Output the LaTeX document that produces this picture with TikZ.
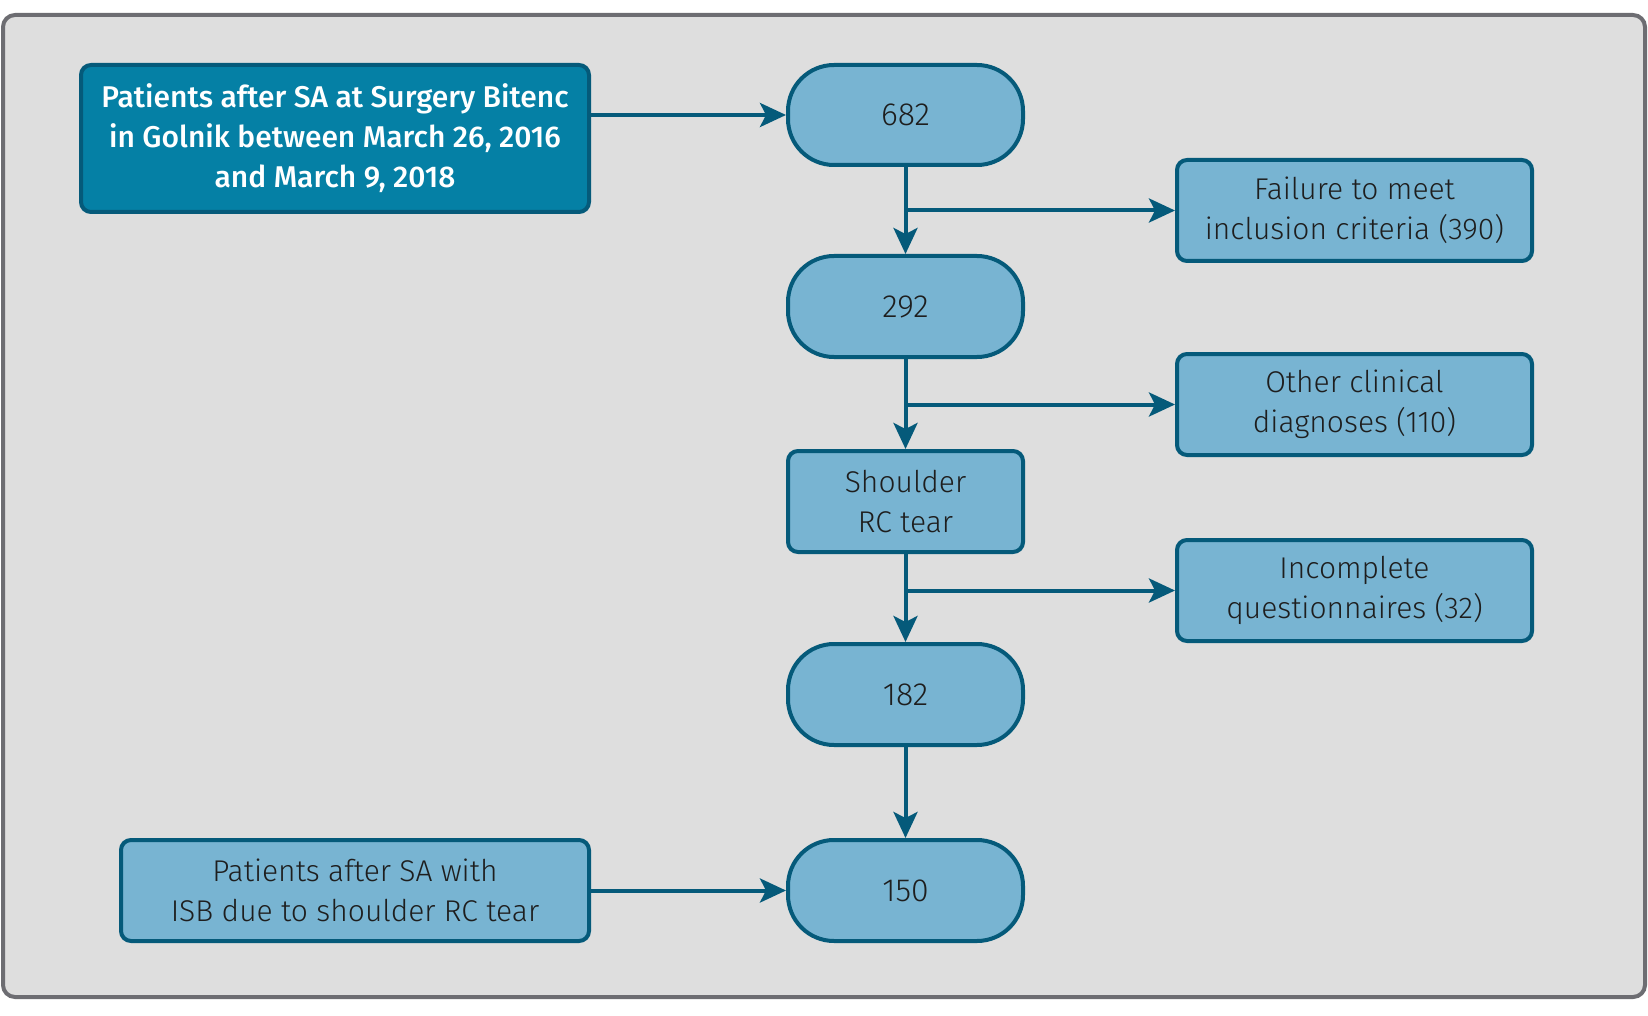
\documentclass[tikz,border=0pt]{standalone}
\usepackage{fontspec}
\setmainfont{Fira Sans}[UprightFont=* Light, BoldFont=* Medium]
\usetikzlibrary{arrows.meta}
\definecolor{bgc}{HTML}{DEDEDE}
\definecolor{framec}{HTML}{6D6D72}
\definecolor{lightc}{HTML}{78B4D2}
\definecolor{darkc}{HTML}{0580A5}
\definecolor{strokec}{HTML}{055A7A}
\definecolor{txtc}{HTML}{1E1E1E}
\tikzset{
  base/.style={draw=strokec, line width=4pt, align=center, inner sep=0pt,
    font=\fontsize{30}{40}\selectfont},
  lightbox/.style={base, fill=lightc, text=txtc, rounded corners=10pt},
  darkbox/.style={base, fill=darkc, text=white, rounded corners=10pt, font=\bfseries\fontsize{30}{40}\selectfont},
  pill/.style={base, fill=lightc, text=txtc, rounded corners=46pt, font=\fontsize{32}{40}\selectfont},
  arr/.style={draw=strokec, line width=4pt, -{Stealth[length=26pt,width=24pt,inset=6pt]}},
  ln/.style={draw=strokec, line width=4pt}
}
\begin{document}
\begin{tikzpicture}[x=1pt,y=-1pt]
\useasboundingbox (0,0) rectangle (1648,1016);
\draw[draw=framec, fill=bgc, line width=4pt, rounded corners=12pt] (3,15) rectangle (1645,997);

\node[darkbox, minimum width=508pt, minimum height=147pt] (b1) at (335,138.5)
  {Patients after SA at Surgery Bitenc\\in Golnik between March 26, 2016\\and March 9, 2018};
\node[pill, minimum width=235pt, minimum height=100pt] (n682) at (905.5,115) {682};
\node[lightbox, minimum width=355pt, minimum height=101pt] (fail) at (1354.5,210.5)
  {Failure to meet\\inclusion criteria (390)};
\node[pill, minimum width=235pt, minimum height=101pt] (n292) at (905.5,306.5) {292};
\node[lightbox, minimum width=355pt, minimum height=101pt] (other) at (1354.5,404.5)
  {Other clinical\\diagnoses (110)};
\node[lightbox, minimum width=235pt, minimum height=101pt] (shoulder) at (905.5,501.5)
  {Shoulder\\RC tear};
\node[lightbox, minimum width=355pt, minimum height=101pt] (incomplete) at (1354.5,590.5)
  {Incomplete\\questionnaires (32)};
\node[pill, minimum width=235pt, minimum height=101pt] (n182) at (905.5,694.5) {182};
\node[pill, minimum width=235pt, minimum height=101pt] (n150) at (905.5,890.5) {150};
\node[lightbox, minimum width=468pt, minimum height=101pt] (bl) at (355,890.5)
  {Patients after SA with\\ISB due to shoulder RC tear};

\draw[arr] (b1.east |- n682.west) -- (n682.west);
\draw[arr] (n682.south) -- (n292.north);
\draw[arr] (n682.south |- fail.west) -- (fail.west);
\draw[arr] (n292.south) -- (shoulder.north);
\draw[arr] (n292.south |- other.west) -- (other.west);
\draw[arr] (shoulder.south) -- (n182.north);
\draw[arr] (shoulder.south |- incomplete.west) -- (incomplete.west);
\draw[arr] (n182.south) -- (n150.north);
\draw[arr] (bl.east) -- (n150.west);
\end{tikzpicture}
\end{document}
